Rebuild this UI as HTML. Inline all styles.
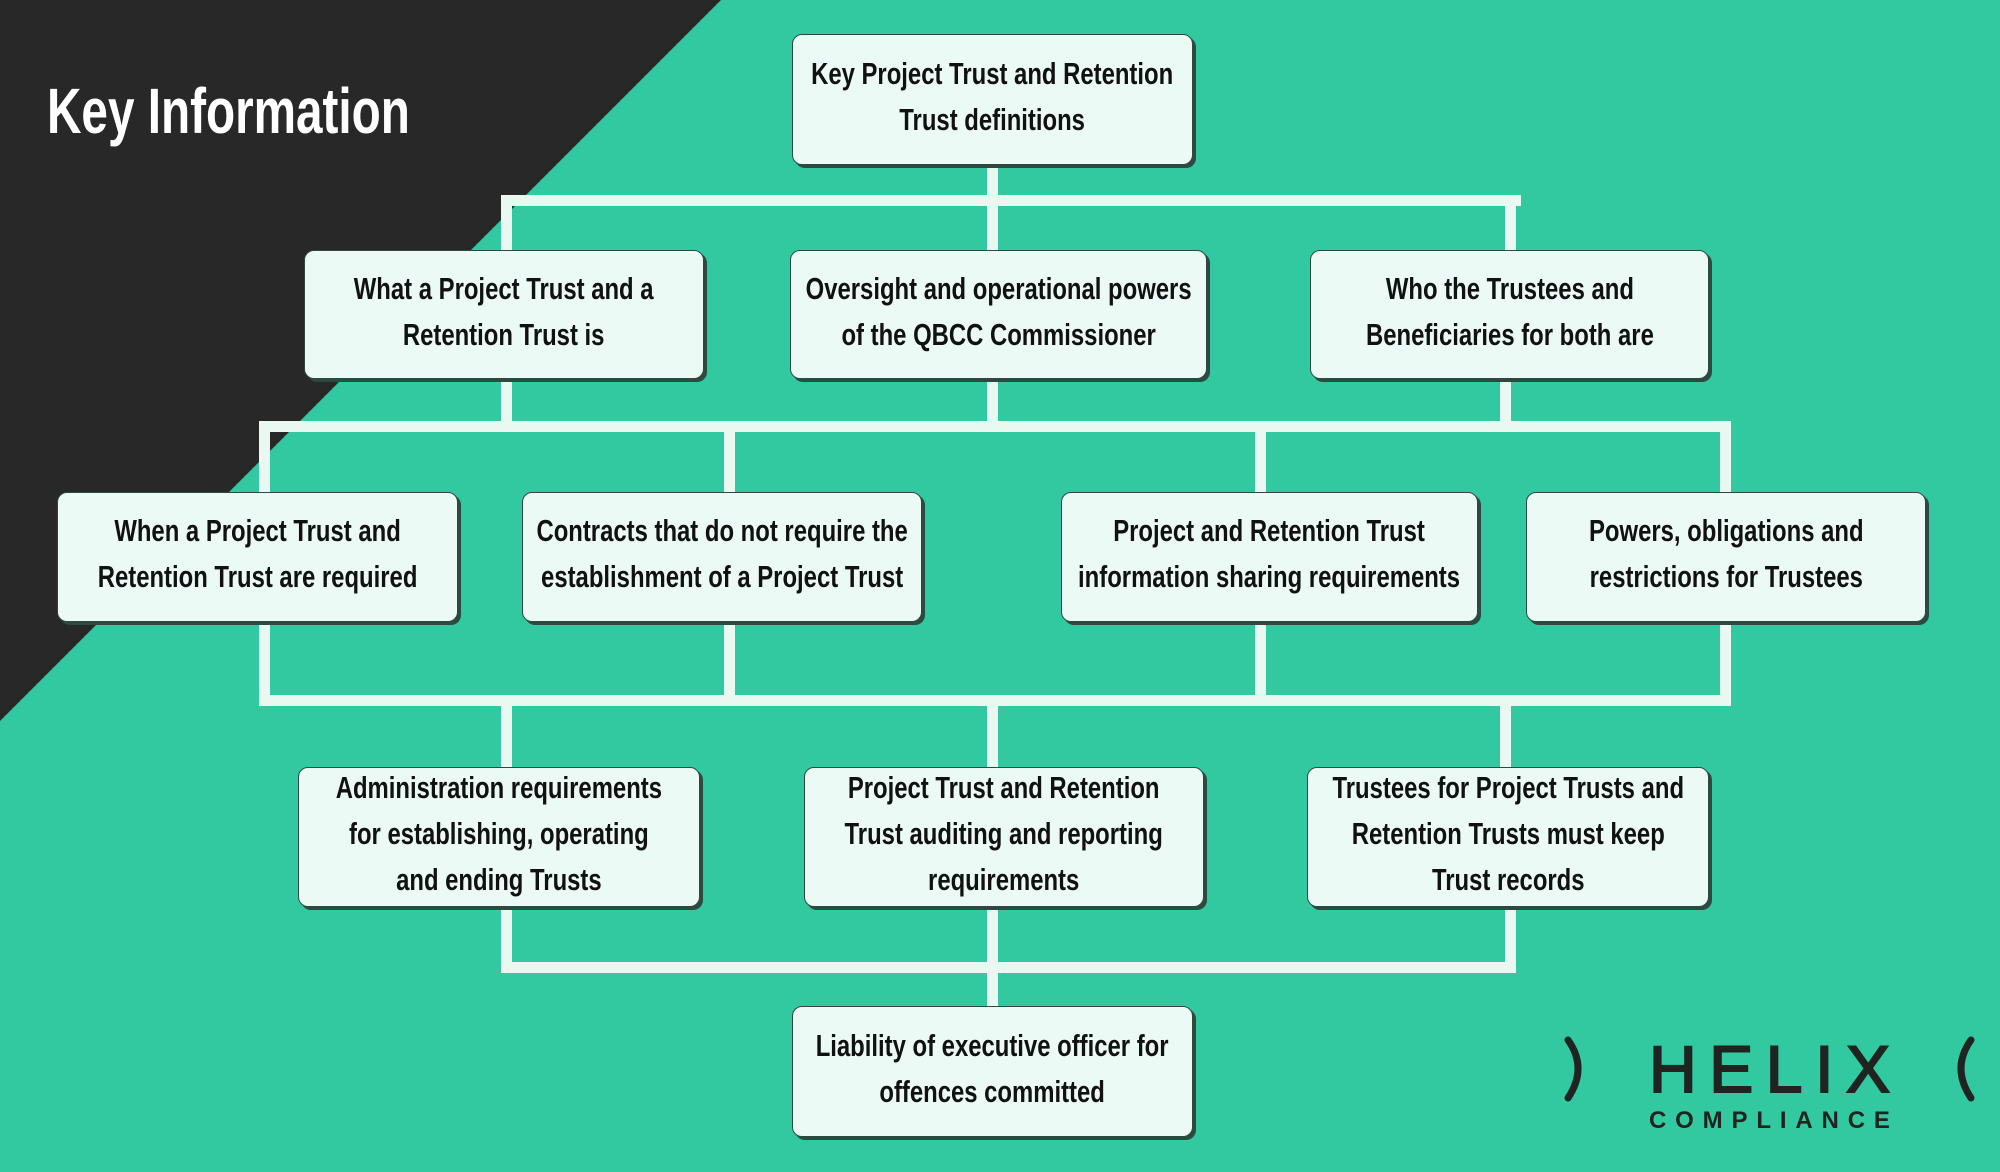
<!DOCTYPE html>
<html><head><meta charset="utf-8"><style>
*{margin:0;padding:0;box-sizing:border-box}
body{width:2000px;height:1172px;overflow:hidden;background:#32c9a0;position:relative;font-family:"Liberation Sans",sans-serif}
.tri{position:absolute;left:0;top:0;width:0;height:0;border-top:721px solid #282828;border-right:721px solid transparent}
h1{position:absolute;left:47px;top:74px;font-size:64px;color:#fff;font-weight:bold;transform:scaleX(0.745);transform-origin:left top;white-space:nowrap}
.ln{position:absolute;background:#eaf8f2}
.b{position:absolute;background:#ecfaf5;border:1.5px solid #2d4a40;border-radius:10px;box-shadow:3px 3px 0 #2d4a40;display:flex;align-items:center;justify-content:center;text-align:center;padding-bottom:6px}
.b span{display:inline-block;white-space:nowrap;font-size:31px;line-height:46px;font-weight:bold;color:#111;transform:scaleX(0.77)}
.logo{position:absolute;color:#1f2420;display:flex;justify-content:space-between}
</style></head><body>
<div class="tri"></div>
<h1>Key Information</h1>

<div class="ln" style="left:987px;top:165px;width:11px;height:40px"></div>
<div class="ln" style="left:501px;top:195px;width:1020px;height:11px"></div>
<div class="ln" style="left:501px;top:195px;width:11px;height:56px"></div>
<div class="ln" style="left:987px;top:195px;width:11px;height:56px"></div>
<div class="ln" style="left:1505px;top:195px;width:11px;height:56px"></div>

<div class="ln" style="left:501px;top:379px;width:11px;height:50px"></div>
<div class="ln" style="left:987px;top:379px;width:11px;height:50px"></div>
<div class="ln" style="left:1500px;top:379px;width:11px;height:50px"></div>
<div class="ln" style="left:259px;top:421px;width:1472px;height:11px"></div>
<div class="ln" style="left:259px;top:421px;width:11px;height:72px"></div>
<div class="ln" style="left:724px;top:421px;width:11px;height:72px"></div>
<div class="ln" style="left:1255px;top:421px;width:11px;height:72px"></div>
<div class="ln" style="left:1720px;top:421px;width:11px;height:72px"></div>

<div class="ln" style="left:259px;top:622px;width:11px;height:84px"></div>
<div class="ln" style="left:724px;top:622px;width:11px;height:84px"></div>
<div class="ln" style="left:1255px;top:622px;width:11px;height:84px"></div>
<div class="ln" style="left:1720px;top:622px;width:11px;height:84px"></div>
<div class="ln" style="left:259px;top:695px;width:1472px;height:11px"></div>
<div class="ln" style="left:501px;top:695px;width:11px;height:73px"></div>
<div class="ln" style="left:987px;top:695px;width:11px;height:73px"></div>
<div class="ln" style="left:1500px;top:695px;width:11px;height:73px"></div>

<div class="ln" style="left:501px;top:907px;width:11px;height:65px"></div>
<div class="ln" style="left:987px;top:907px;width:11px;height:100px"></div>
<div class="ln" style="left:1505px;top:907px;width:11px;height:65px"></div>
<div class="ln" style="left:501px;top:962px;width:1015px;height:11px"></div>

<div class="b" style="left:792px;top:34px;width:401px;height:131px"><span>Key Project Trust and Retention<br>Trust definitions</span></div>

<div class="b" style="left:304px;top:250px;width:400px;height:129px"><span>What a Project Trust and a<br>Retention Trust is</span></div>
<div class="b" style="left:790px;top:250px;width:417px;height:129px"><span>Oversight and operational powers<br>of the QBCC Commissioner</span></div>
<div class="b" style="left:1310px;top:250px;width:399px;height:129px"><span>Who the Trustees and<br>Beneficiaries for both are</span></div>

<div class="b" style="left:57px;top:492px;width:401px;height:130px"><span>When a Project Trust and<br>Retention Trust are required</span></div>
<div class="b" style="left:522px;top:492px;width:400px;height:130px"><span>Contracts that do not require the<br>establishment of a Project Trust</span></div>
<div class="b" style="left:1061px;top:492px;width:417px;height:130px"><span>Project and Retention Trust<br>information sharing requirements</span></div>
<div class="b" style="left:1526px;top:492px;width:400px;height:130px"><span>Powers, obligations and<br>restrictions for Trustees</span></div>

<div class="b" style="left:298px;top:767px;width:402px;height:140px"><span>Administration requirements<br>for establishing, operating<br>and ending Trusts</span></div>
<div class="b" style="left:804px;top:767px;width:400px;height:140px"><span>Project Trust and Retention<br>Trust auditing and reporting<br>requirements</span></div>
<div class="b" style="left:1307px;top:767px;width:402px;height:140px"><span>Trustees for Project Trusts and<br>Retention Trusts must keep<br>Trust records</span></div>

<div class="b" style="left:792px;top:1006px;width:401px;height:131px"><span>Liability of executive officer for<br>offences committed</span></div>

<svg style="position:absolute;left:1560px;top:1036px" width="440" height="70">
<path d="M8 4 Q28 32 8 62" stroke="#1f2420" stroke-width="7" fill="none" stroke-linecap="round"/>
<path d="M411 4 Q391 32 411 62" stroke="#1f2420" stroke-width="7" fill="none" stroke-linecap="round"/>
</svg>
<div class="logo" style="left:1649px;top:1036px;width:241px;font-size:66px;line-height:66px;font-weight:normal;-webkit-text-stroke:2px #1f2420"><span>H</span><span>E</span><span>L</span><span>I</span><span>X</span></div>
<div class="logo" style="left:1649px;top:1109px;width:241px;font-size:24px;line-height:24px;font-weight:bold"><span>C</span><span>O</span><span>M</span><span>P</span><span>L</span><span>I</span><span>A</span><span>N</span><span>C</span><span>E</span></div>
</body></html>
